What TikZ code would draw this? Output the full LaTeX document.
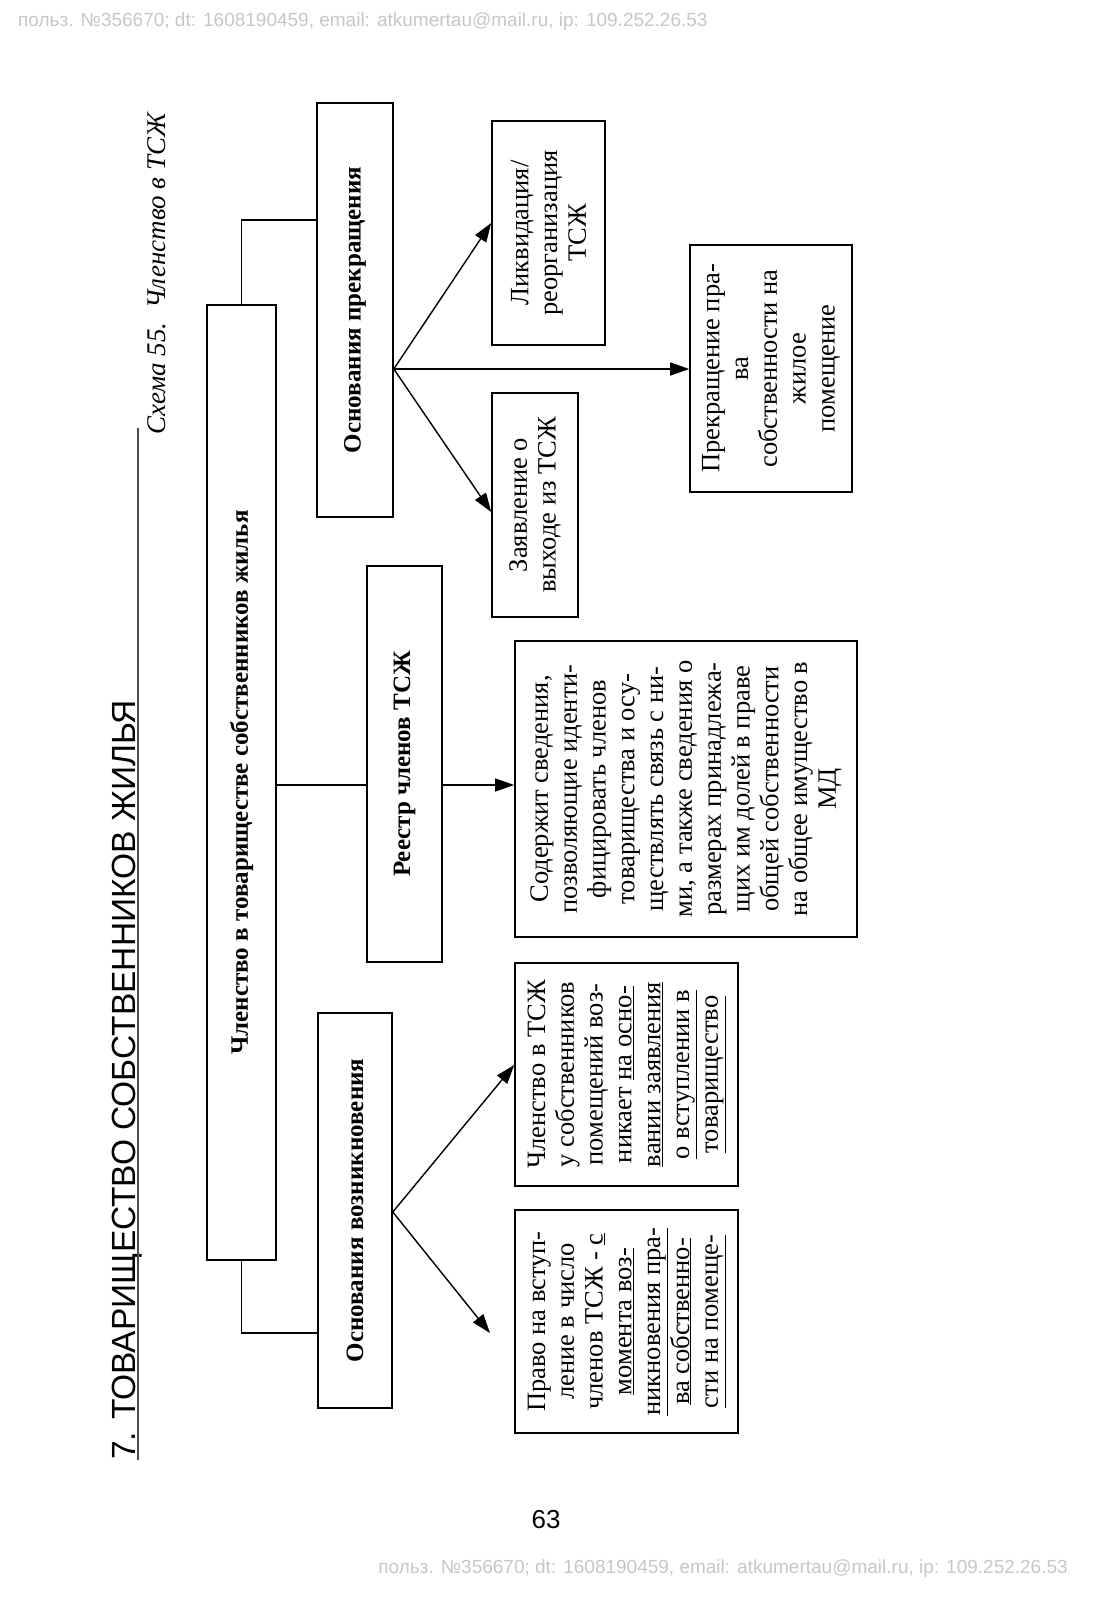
\documentclass[tikz,border=0pt]{standalone}
\usepackage{fontspec}
\setmainfont{Liberation Serif}
\newfontfamily\arialf{Liberation Sans}
\usetikzlibrary{arrows.meta}
\begin{document}
\begin{tikzpicture}[x=1pt,y=-1pt,
  box/.style={draw, line width=1.6pt, rotate=90, align=center, inner sep=0pt, font=\fontsize{26.5}{28.8}\selectfont},
  lbl/.style={box, font=\bfseries\fontsize{25}{28}\selectfont},
  conn/.style={line width=1.4pt},
  arr/.style={line width=1.4pt, -{Triangle[length=19pt,width=13pt]}},
  wm/.style={text=black!22, font=\arialf\fontsize{19}{21}\selectfont, inner sep=0pt}]
\useasboundingbox[fill=white] (0,0) rectangle (1093,1600);

% watermarks and page number
\node[wm, anchor=west] (wmtop) at (18,22) {польз. №356670; dt: 1608190459, email: atkumertau@mail.ru, ip: 109.252.26.53};
\node[wm, anchor=east] (wmbot) at (1068,1569) {польз. №356670; dt: 1608190459, email: atkumertau@mail.ru, ip: 109.252.26.53};
\node[font=\arialf\fontsize{26}{28}\selectfont, inner sep=0pt] (pnum) at (546,1520) {63};

% title and caption
\node[rotate=90, anchor=base west, inner sep=0pt, font=\arialf\fontsize{33.5}{36}\selectfont] (title) at (135,1460) {7. ТОВАРИЩЕСТВО СОБСТВЕННИКОВ ЖИЛЬЯ};
\draw[line width=1.2pt, black!70] (138,428) -- (138,1460);
\node[rotate=90, anchor=base west, inner sep=0pt, font=\itshape\fontsize{27}{30}\selectfont] (cap) at (165,435) {Схема 55.\ \ Членство в ТСЖ};

% boxes
\node[lbl, minimum width=955pt, minimum height=69pt] (main) at (241.5,782.5) {Членство в товариществе собственников жилья};
\node[lbl, minimum width=414pt, minimum height=76pt] (A) at (355,310) {Основания прекращения};
\node[box, minimum width=224pt, minimum height=113pt] (B) at (548.5,233) {Ликвидация/\\реорганизация\\ТСЖ};
\node[box, minimum width=247pt, minimum height=162pt] (C) at (771,368.5) {Прекращение пра-\\ва\\собственности на\\жилое\\помещение};
\node[box, minimum width=224pt, minimum height=86pt] (D) at (535,505) {Заявление о\\выходе из ТСЖ};
\node[lbl, minimum width=396pt, minimum height=75pt] (E) at (404.5,764) {Реестр членов ТСЖ};
\node[box, minimum width=296pt, minimum height=342pt] (F) at (686,789) {Содержит сведения,\\позволяющие иденти-\\фицировать членов\\товарищества и осу-\\ществлять связь с ни-\\ми, а также сведения о\\размерах принадлежа-\\щих им долей в праве\\общей собственности\\на общее имущество в\\МД};
\node[box, minimum width=223pt, minimum height=223pt] (G) at (626.5,1074.5) {Членство в ТСЖ\\у собственников\\помещений воз-\\никает \underline{на осно-}\\\underline{вании заявления}\\\underline{о вступлении в}\\\underline{товарищество}};
\node[box, minimum width=223pt, minimum height=223pt] (H) at (626.5,1321.5) {Право на вступ-\\ление в число\\членов ТСЖ - \underline{с}\\\underline{момента воз-}\\\underline{никновения пра-}\\\underline{ва собственно-}\\\underline{сти на помеще-}};
\node[lbl, minimum width=395pt, minimum height=74pt] (I) at (355,1210.5) {Основания возникновения};

% connectors
\draw[conn] (main.east) |- (A.north |- 0,220);
\draw[arr] (A.south |- 0,369) -- (B.north |- 0,223);
\draw[arr] (A.south |- 0,369) -- (C.north |- 0,369);
\draw[arr] (A.south |- 0,369) -- (D.north |- 0,512);
\draw[conn] (main.south |- 0,785) -- (E.north |- 0,785);
\draw[arr] (E.south |- 0,785) -- (F.north |- 0,785);
\draw[conn] (main.west) |- (I.north |- 0,1333);
\draw[arr] (I.south |- 0,1212) -- (G.north |- 0,1065);
\coordinate (hEnd) at (490,1333);
\draw[arr] (I.south |- 0,1212) -- (hEnd);
\end{tikzpicture}
\end{document}
